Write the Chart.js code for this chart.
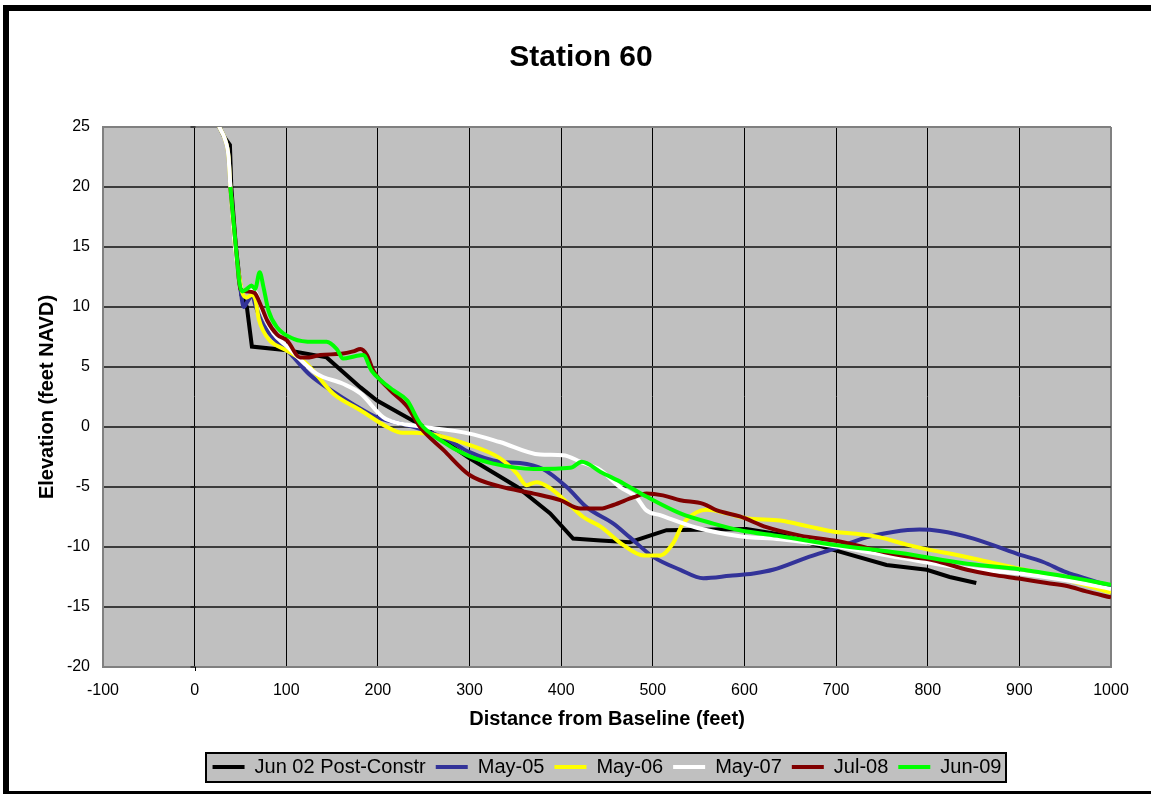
<!DOCTYPE html>
<html>
<head>
<meta charset="utf-8">
<title>Station 60</title>
<script src="https://cdn.jsdelivr.net/npm/chart.js@4/dist/chart.umd.min.js"></script>
<style>
  html, body { margin: 0; padding: 0; background: #ffffff; }
  #wrap { width: 1151px; height: 794px; position: relative; }
  canvas { display: block; }
</style>
</head>
<body>
<div id="wrap"><canvas id="profile" width="1151" height="794"></canvas></div>
<script>
// Beach profile survey, Station 60: distance from baseline (ft) vs elevation (ft NAVD)
const seriesLabels = ['Jun 02 Post-Constr', 'May-05', 'May-06', 'May-07', 'Jul-08', 'Jun-09'];
const seriesColors = ['#000000', '#333399', '#ffff00', '#ffffff', '#800000', '#00ff00'];

const jun02X = [18, 27, 32, 38.5, 40, 45, 51, 57, 62.5, 101, 144, 181, 199, 232, 246, 300, 352, 388, 413, 443, 475, 515, 566, 602, 639, 700, 755, 799, 824, 853];
const jun02Y = [27, 25, 24.2, 23.5, 20, 15, 11, 10, 6.7, 6.4, 5.8, 3.3, 2.2, 0.8, 0.2, -2.6, -5, -7.2, -9.3, -9.45, -9.6, -8.6, -8.55, -8.5, -8.95, -10.3, -11.5, -11.9, -12.5, -13.0];

const may05X = [18, 27, 33, 37, 39, 44, 50, 53.5, 58, 63, 66, 75, 86, 101, 125, 150, 175, 199, 224, 246, 275, 300, 333, 355, 380, 406, 428, 457, 475, 500, 530, 555, 584, 610, 631, 671, 700, 733, 762, 791, 813, 850, 897, 926, 951, 980, 1000];
const may05Y = [27, 25, 24, 22.5, 20, 15, 11.5, 10, 10.5, 11, 10.2, 8.5, 7.4, 6.4, 4.4, 3.0, 1.8, 0.8, 0.3, -0.15, -1.0, -2.1, -2.9, -3.0, -3.5, -5.0, -6.7, -8.05, -9.2, -10.8, -11.9, -12.6, -12.4, -12.2, -11.9, -10.8, -10.1, -9.2, -8.75, -8.55, -8.67, -9.3, -10.55, -11.25, -12.1, -12.8, -13.3];

const may06X = [18, 27, 33, 37, 39, 44, 50, 52, 57, 62, 66, 70, 75, 82, 100, 122, 151, 181, 210, 224, 246, 300, 333, 352, 362, 373, 388, 406, 424, 443, 468, 490, 508, 522, 533, 548, 559, 581, 602, 639, 671, 700, 722, 748, 777, 806, 828, 870, 900, 950, 1000];
const may06Y = [27, 25, 24, 22.5, 20, 15, 12, 11.2, 10.8, 11, 10.7, 9.0, 8.0, 7.2, 6.4, 5.3, 2.8, 1.4, 0, -0.45, -0.5, -1.5, -2.6, -3.9, -4.85, -4.6, -5.1, -6.25, -7.5, -8.3, -9.85, -10.7, -10.7, -9.7, -8.05, -7.1, -6.9, -7.2, -7.6, -7.8, -8.3, -8.75, -8.9, -9.2, -9.8, -10.3, -10.6, -11.3, -11.8, -12.7, -13.8];

const may07X = [18, 27, 33, 37, 39, 44, 48, 52, 58, 64, 68, 75, 86, 101, 133, 162, 181, 206, 224, 246, 300, 333, 377, 402, 421, 443, 464, 482, 493, 508, 548, 595, 639, 700, 770, 843, 900, 950, 1000];
const may07Y = [27, 25, 24, 22.5, 20, 15, 12.5, 11.4, 11.3, 11.4, 11.0, 9.45, 7.8, 6.7, 4.45, 3.6, 2.8, 0.8, 0.3, 0.05, -0.55, -1.25, -2.3, -2.35, -2.9, -3.6, -5.0, -5.85, -6.95, -7.35, -8.4, -9.1, -9.35, -9.95, -10.9, -11.8, -12.2, -12.75, -13.5];

const jul08X = [39, 45, 50, 57, 65, 73, 79, 90, 101, 115, 125, 137, 160, 173, 181, 188, 195, 213, 232, 246, 272, 300, 333, 370, 399, 421, 443, 457, 479, 493, 511, 530, 555, 570, 595, 624, 661, 701, 735, 770, 806, 843, 870, 901, 930, 952, 973, 1000];
const jul08Y = [20, 15, 11.5, 11.3, 11.2, 10.0, 8.9, 7.7, 7.2, 5.8, 5.8, 6.0, 6.1, 6.3, 6.5, 6.0, 4.7, 3.1, 1.7, 0, -1.95, -4.0, -4.95, -5.55, -6.1, -6.8, -6.8, -6.5, -5.85, -5.55, -5.7, -6.1, -6.4, -6.95, -7.45, -8.35, -9.05, -9.5, -10.1, -10.7, -11.1, -11.9, -12.3, -12.65, -13.0, -13.25, -13.7, -14.2];

const jun09X = [39, 45, 49, 52, 57, 62, 66, 71, 75, 80.6, 90, 108, 130, 144, 155, 162, 175, 184, 193, 203, 217, 232, 246, 268, 297, 326, 370, 410, 422.5, 443, 468, 493, 530, 566, 595, 639, 701, 770, 843, 900, 950, 1000];
const jun09Y = [20, 15, 12, 11.3, 11.5, 11.8, 11.5, 12.9, 11.7, 9.7, 8.3, 7.35, 7.1, 7.1, 6.5, 5.7, 5.9, 6.0, 4.7, 3.9, 3.05, 2.2, 0.3, -1.1, -2.35, -3.05, -3.5, -3.4, -2.9, -3.75, -4.7, -5.8, -7.2, -8.05, -8.6, -9.1, -9.85, -10.5, -11.4, -11.85, -12.45, -13.15];

const seriesX = [jun02X, may05X, may06X, may07X, jul08X, jun09X];
const seriesY = [jun02Y, may05Y, may06Y, may07Y, jul08Y, jun09Y];

const xMin = -100, xMax = 1000, xStep = 100;
const yMin = -20, yMax = 25, yStep = 5;

const FONT = "'Liberation Sans', Arial, Helvetica, sans-serif";
Chart.defaults.font.family = FONT;
Chart.defaults.color = '#000000';

const toPoints = (xs, ys) => xs.map((x, i) => ({ x: x, y: ys[i] }));

const datasets = seriesLabels.map((label, i) => ({
  label: label,
  data: toPoints(seriesX[i], seriesY[i]),
  borderColor: seriesColors[i],
  backgroundColor: seriesColors[i],
  borderWidth: 4,
  pointRadius: 0,
  pointHoverRadius: 0,
  fill: false,
  clip: 0,
  tension: 0,
  cubicInterpolationMode: i === 0 ? 'default' : 'monotone',
  // later surveys are painted over earlier ones
  order: seriesLabels.length - 1 - i
}));

const isEdge = (v, lo, hi) => v === lo || v === hi;

// plot background, legend frame, axis-crossing ticks and the outer border
const chartDecor = {
  id: 'chartDecor',
  beforeDraw(chart) {
    const { ctx, chartArea: a } = chart;
    ctx.save();
    ctx.fillStyle = '#ffffff';
    ctx.fillRect(0, 0, chart.width, chart.height);
    ctx.fillStyle = '#c0c0c0';
    ctx.fillRect(a.left, a.top, a.right - a.left, a.bottom - a.top);
    const lg = chart.legend;
    if (lg && lg.legendHitBoxes && lg.legendHitBoxes.length) {
      const hb = lg.legendHitBoxes;
      const lefts = hb.map(h => h.left), rights = hb.map(h => h.left + h.width);
      const l = Math.round(Math.min(...lefts) - 7);
      const r = Math.round(Math.max(...rights) + 5);
      const t = Math.round(hb[0].top - 4);
      const b = Math.round(hb[0].top + hb[0].height + 5);
      ctx.fillStyle = '#c0c0c0';
      ctx.fillRect(l, t, r - l, b - t);
      ctx.strokeStyle = '#000000';
      ctx.lineWidth = 2;
      ctx.strokeRect(l, t, r - l, b - t);
    }
    ctx.restore();
  },
  beforeDatasetsDraw(chart) {
    // value axis crosses at distance 0: short tick marks on its left side
    const { ctx, scales: { x, y } } = chart;
    const x0 = Math.round(x.getPixelForValue(0)) + 0.5;
    ctx.save();
    ctx.strokeStyle = '#000000';
    ctx.lineWidth = 1;
    ctx.beginPath();
    y.ticks.forEach(t => {
      const py = Math.round(y.getPixelForValue(t.value));
      ctx.moveTo(x0 - 5, py);
      ctx.lineTo(x0, py);
    });
    ctx.moveTo(x0, chart.chartArea.bottom);
    ctx.lineTo(x0, chart.chartArea.bottom + 4);
    ctx.stroke();
    ctx.restore();
  },
  afterDraw(chart) {
    const ctx = chart.ctx;
    ctx.save();
    ctx.fillStyle = '#000000';
    ctx.fillRect(3, 5, chart.width - 3, 6);
    ctx.fillRect(3, 5, 6, chart.height - 5);
    ctx.fillRect(3, chart.height - 3, chart.width - 3, 3);
    ctx.restore();
  }
};

new Chart(document.getElementById('profile'), {
  type: 'line',
  data: { datasets: datasets },
  plugins: [chartDecor],
  options: {
    responsive: false,
    animation: false,
    events: [],
    layout: { padding: { left: 51, right: 40, top: 0, bottom: 7 } },
    plugins: {
      title: {
        display: true,
        text: 'Station 60',
        color: '#000000',
        font: { family: FONT, size: 30, weight: 'bold' },
        padding: { top: 40, bottom: 51 }
      },
      legend: {
        display: true,
        position: 'bottom',
        fullSize: false,
        labels: {
          usePointStyle: true,
          pointStyle: 'line',
          pointStyleWidth: 32,
          padding: 10,
          color: '#000000',
          font: { family: FONT, size: 20 },
          sort: (a, b) => a.datasetIndex - b.datasetIndex
        }
      },
      tooltip: { enabled: false }
    },
    scales: {
      x: {
        type: 'linear',
        min: xMin,
        max: xMax,
        afterFit: (s) => { s.height = 80; },
        ticks: {
          stepSize: xStep,
          autoSkip: false,
          maxRotation: 0,
          padding: 14,
          color: '#000000',
          font: { family: FONT, size: 16 },
          callback: (v) => String(v)
        },
        grid: {
          drawTicks: false,
          color: (c) => (c.tick && isEdge(c.tick.value, xMin, xMax)) ? '#808080' : '#000000',
          lineWidth: (c) => (c.tick && isEdge(c.tick.value, xMin, xMax)) ? 2 : 1
        },
        border: { display: true, color: '#808080', width: 2 },
        title: {
          display: true,
          text: 'Distance from Baseline (feet)',
          color: '#000000',
          font: { family: FONT, size: 20, weight: 'bold' },
          padding: { top: 0, bottom: 16 }
        }
      },
      y: {
        type: 'linear',
        min: yMin,
        max: yMax,
        afterFit: (s) => { s.width = 52; },
        ticks: {
          stepSize: yStep,
          padding: 13,
          color: '#000000',
          font: { family: FONT, size: 16 },
          callback: (v) => String(v)
        },
        grid: {
          drawTicks: false,
          color: (c) => (c.tick && isEdge(c.tick.value, yMin, yMax)) ? '#808080' : '#3c3c3c',
          lineWidth: 2
        },
        border: { display: true, color: '#808080', width: 2 },
        title: {
          display: true,
          text: 'Elevation (feet NAVD)',
          color: '#000000',
          font: { family: FONT, size: 20, weight: 'bold' },
          padding: { top: -16, bottom: 0 }
        }
      }
    }
  }
});
</script>
</body>
</html>
